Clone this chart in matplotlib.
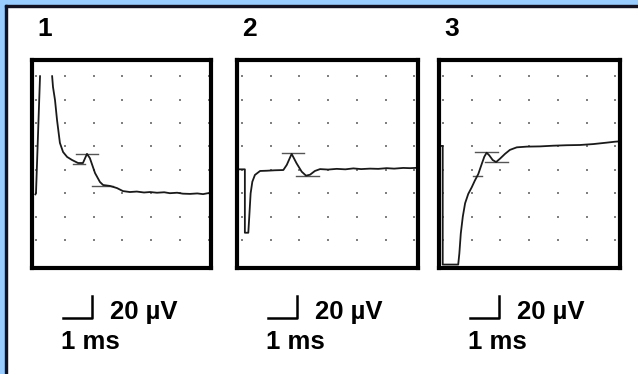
import matplotlib.pyplot as plt
import numpy as np
from matplotlib.patches import Rectangle
from matplotlib.lines import Line2D

plt.rcParams['font.family'] = ['Liberation Sans', 'DejaVu Sans']

# traces: x in ms, y in grid divisions (NaN = trace off screen)
trace1_x = [-0.02, 0.0, 0.14, np.nan, 0.56, 0.59, 0.66, 0.73, 0.83, 0.94, 1.08, 1.25, 1.46,
            1.63, 1.77, 1.87, 2.05, 2.22, 2.33, 2.57, 2.81, 3.02, 3.26, 3.5, 3.75, 3.96,
            4.2, 4.45, 4.65, 4.9, 5.1, 5.35, 5.6, 5.8, 5.97, 6.1]
trace1_y = [1.95, 2.01, 7.0, np.nan, 7.0, 6.54, 5.98, 5.13, 4.15, 3.76, 3.55, 3.42, 3.29,
            3.29, 3.68, 3.5, 2.86, 2.48, 2.35, 2.31, 2.22, 2.09, 2.05, 2.07, 2.03, 2.05,
            2.02, 2.04, 2.0, 2.02, 1.98, 1.97, 1.99, 1.96, 2.0, 1.99]

trace2_x = [-0.2, 0.10, 0.10, 0.22, 0.26, 0.30, 0.36, 0.45, 0.63, 0.86, 1.15, 1.44, 1.56,
            1.73, 1.90, 2.08, 2.23, 2.37, 2.54, 2.72, 3.0, 3.30, 3.6, 3.88, 4.15, 4.46,
            4.75, 5.04, 5.3, 5.62, 5.85, 6.2]
trace2_y = [3.02, 3.02, 0.31, 0.31, 1.14, 1.99, 2.49, 2.78, 2.95, 2.96, 2.98, 2.99, 3.21,
            3.68, 3.28, 2.92, 2.75, 2.79, 2.95, 3.03, 3.01, 3.04, 3.02, 3.06, 3.03, 3.05,
            3.04, 3.07, 3.05, 3.08, 3.07, 3.09]

trace3_x = [-0.2, -0.01, -0.01, 0.53, 0.57, 0.62, 0.69, 0.77, 0.88, 1.00, 1.11, 1.23, 1.35,
            1.44, 1.52, 1.61, 1.73, 1.85, 1.99, 2.16, 2.33, 2.57, 2.92, 3.38, 3.84, 4.31,
            4.77, 5.24, 5.70, 5.99, 6.2]
trace3_y = [4.02, 4.02, -1.05, -1.05, -0.57, 0.28, 1.00, 1.57, 1.97, 2.25, 2.54, 2.82, 3.25,
            3.56, 3.73, 3.62, 3.42, 3.33, 3.48, 3.68, 3.85, 3.96, 3.99, 4.00, 4.03, 4.05,
            4.06, 4.10, 4.16, 4.20, 4.22]

# latency / amplitude cursors: (x start, x end, level)
cursors1 = [(1.39, 2.15, 3.68), (1.28, 1.70, 3.25), (1.94, 2.67, 2.31)]
cursors2 = [(1.38, 2.16, 3.70), (1.88, 2.67, 2.74)]
cursors3 = [(1.11, 1.93, 3.77), (1.46, 2.28, 3.32), (1.03, 1.36, 2.74)]

panel_names = ['1', '2', '3']
amp_label = '20 µV'
time_label = '1 ms'
grid_cols = np.arange(0, 7)
grid_rows = np.arange(0, 8)

W, H = 638, 374
fig = plt.figure(figsize=(W / 100, H / 100), dpi=100)
fig.patch.set_facecolor('white')

def fx(px):
    return px / W

def fy(py):
    return 1 - py / H

# frame decoration
fig.patches.append(Rectangle((0, fy(5)), 1, 5 / H, transform=fig.transFigure,
                             color='#99ccff', zorder=0))
fig.patches.append(Rectangle((0, 0), 5 / W, 1, transform=fig.transFigure,
                             color='#99ccff', zorder=0))
fig.patches.append(Rectangle((fx(5), fy(7)), 1, 2 / H, transform=fig.transFigure,
                             color='#111122', zorder=1))
fig.patches.append(Rectangle((fx(5), 0), 2 / W, fy(5), transform=fig.transFigure,
                             color='#111122', zorder=1))

panels = [
    dict(left=32, right=211, dot0=36, step=28.8, x=trace1_x, y=trace1_y, cur=cursors1),
    dict(left=237, right=418, dot0=242, step=28.7, x=trace2_x, y=trace2_y, cur=cursors2),
    dict(left=439, right=620, dot0=443, step=28.7, x=trace3_x, y=trace3_y, cur=cursors3),
]
top, bottom = 60, 268
row0, rstep = 240, 23.4

for i, p in enumerate(panels):
    ax = fig.add_axes([fx(p['left']), fy(bottom), (p['right'] - p['left']) / W,
                       (bottom - top) / H])
    ax.set_xlim((p['left'] - p['dot0']) / p['step'], (p['right'] - p['dot0']) / p['step'])
    ax.set_ylim((row0 - bottom) / rstep, (row0 - top) / rstep)
    gx, gy = np.meshgrid(grid_cols, grid_rows)
    ax.scatter(gx.ravel(), gy.ravel(), s=1.4, color='#808080', marker='s', lw=0)
    for x0, x1, lev in p['cur']:
        ax.plot([x0, x1], [lev, lev], color='#555555', lw=1.0)
    ax.plot(p['x'], p['y'], color='#1a1a1a', lw=1.3)
    ax.set_xticks([])
    ax.set_yticks([])
    for s in ax.spines.values():
        s.set_linewidth(3.0)
        s.set_color('black')

    off = p['left'] - 32
    fig.text(fx(37 + off), fy(36), panel_names[i], fontsize=19, fontweight='bold',
             ha='left', va='baseline')

    # scale bar
    sx0, sx1, sy0, sy1 = 63 + off, 92 + off, 296, 318
    fig.add_artist(Line2D([fx(sx0), fx(sx1), fx(sx1)], [fy(sy1), fy(sy1), fy(sy0)],
                          transform=fig.transFigure, color='black', lw=1.8))
    fig.text(fx(110 + off), fy(319), amp_label, fontsize=18.5, fontweight='bold',
             ha='left', va='baseline')
    fig.text(fx(61 + off), fy(349), time_label, fontsize=18.5, fontweight='bold',
             ha='left', va='baseline')

fig.savefig('out.png', dpi=100)
